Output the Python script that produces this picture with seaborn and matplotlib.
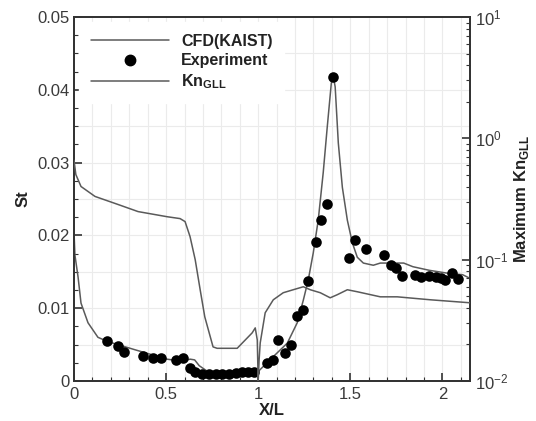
import matplotlib
matplotlib.use("Agg")
import matplotlib.pyplot as plt
import seaborn as sns
import pandas as pd
import numpy as np
from matplotlib.ticker import MultipleLocator, LogLocator, NullFormatter, FixedLocator
from matplotlib.lines import Line2D

# ---- data ----
cfd_x = [0, 0.005, 0.022, 0.038, 0.076, 0.13, 0.185, 0.33, 0.505, 0.59, 0.63, 0.655,
         0.68, 0.72, 0.76, 0.85, 0.95, 1.0, 1.08, 1.158, 1.212, 1.245, 1.272, 1.299,
         1.326, 1.353, 1.375, 1.397, 1.408, 1.418, 1.435, 1.457, 1.484, 1.511, 1.538,
         1.571, 1.625, 1.663, 1.72, 1.79, 1.84, 1.93, 2.03, 2.11, 2.15]
cfd_st = [0.0205, 0.0173, 0.0143, 0.0107, 0.0080, 0.0060, 0.0054, 0.0043, 0.0030, 0.0027,
          0.0030, 0.0029, 0.0021, 0.0014, 0.0011, 0.0010, 0.0011, 0.0013, 0.0033, 0.0052,
          0.0080, 0.0111, 0.0139, 0.0176, 0.0221, 0.0286, 0.0349, 0.0409, 0.0418, 0.0404,
          0.0327, 0.0266, 0.0221, 0.0190, 0.0170, 0.0162, 0.0159, 0.0162, 0.0162, 0.0162,
          0.0157, 0.0152, 0.0148, 0.0146, 0.0141]

exp_x = [0.177, 0.239, 0.269, 0.375, 0.427, 0.47, 0.554, 0.59, 0.63, 0.658, 0.696, 0.734,
         0.772, 0.804, 0.842, 0.88, 0.913, 0.946, 0.978, 1.047, 1.083, 1.11, 1.147, 1.178,
         1.209, 1.243, 1.273, 1.313, 1.342, 1.375, 1.406, 1.492, 1.524, 1.587, 1.685, 1.723,
         1.75, 1.781, 1.851, 1.886, 1.929, 1.967, 1.995, 2.016, 2.053, 2.083]
exp_st = [0.00543, 0.00481, 0.00405, 0.0035, 0.0031, 0.0031, 0.00295, 0.00316, 0.00179,
          0.00124, 0.00103, 0.0009, 0.00096, 0.00103, 0.00103, 0.0011, 0.0013, 0.0013,
          0.00124, 0.00243, 0.00288, 0.00559, 0.00385, 0.00488, 0.00893, 0.00979, 0.01374,
          0.01905, 0.02216, 0.02438, 0.0418, 0.01683, 0.01937, 0.01813, 0.01731, 0.01593,
          0.01548, 0.01442, 0.01456, 0.01422, 0.01449, 0.01435, 0.01415, 0.01387, 0.01484,
          0.01401]

kn_x = [0, 0.01, 0.038, 0.114, 0.239, 0.348, 0.505, 0.576, 0.603, 0.63, 0.658, 0.685,
        0.71, 0.74, 0.755, 0.777, 0.886, 0.93, 0.967, 0.984, 0.995, 1.0, 1.005, 1.011,
        1.038, 1.082, 1.136, 1.19, 1.245, 1.283, 1.337, 1.391, 1.429, 1.484, 1.538,
        1.663, 1.755, 1.935, 2.152]
kn_val = [0.66, 0.503, 0.401, 0.332, 0.285, 0.249, 0.226, 0.218, 0.206, 0.155, 0.100,
          0.0565, 0.0338, 0.0231, 0.0191, 0.0186, 0.0186, 0.0218, 0.0249, 0.0274, 0.0218,
          0.0100, 0.0149, 0.0206, 0.0365, 0.0467, 0.0534, 0.0565, 0.0598, 0.0565, 0.0534,
          0.0485, 0.0514, 0.0565, 0.0544, 0.0494, 0.0494, 0.0467, 0.0441]

x_ticks = [0, 0.5, 1, 1.5, 2]
x_tick_labels = ["0", "0.5", "1", "1.5", "2"]
st_ticks = [0, 0.01, 0.02, 0.03, 0.04, 0.05]
st_tick_labels = ["0", "0.01", "0.02", "0.03", "0.04", "0.05"]

sns.set_theme(style="white")
plt.rcParams['font.family'] = ['Liberation Sans', 'DejaVu Sans']
plt.rcParams['mathtext.fontset'] = 'custom'
plt.rcParams['mathtext.rm'] = 'Liberation Sans'
plt.rcParams['mathtext.bf'] = 'Liberation Sans:bold'

df_cfd = pd.DataFrame({"x": cfd_x, "St": cfd_st})
df_exp = pd.DataFrame({"x": exp_x, "St": exp_st})
df_kn = pd.DataFrame({"x": kn_x, "Kn": kn_val})

fig = plt.figure(figsize=(5.36, 4.21), dpi=100)
ax = fig.add_axes([74/536, 40/421, (470-74)/536, (381-17)/421])
line_col = "#5a5a5a"

sns.lineplot(data=df_cfd, x="x", y="St", ax=ax, color=line_col, lw=1.1,
             sort=False, estimator=None, zorder=3)
sns.scatterplot(data=df_exp, x="x", y="St", ax=ax, color="black", s=58,
                edgecolor="black", linewidth=0, zorder=4)

ax.set_xlim(0, 2.15)
ax.set_ylim(0, 0.05)
ax.xaxis.set_major_locator(FixedLocator(x_ticks))
ax.set_xticklabels(x_tick_labels)
ax.xaxis.set_minor_locator(MultipleLocator(0.1))
ax.yaxis.set_major_locator(FixedLocator(st_ticks))
ax.set_yticklabels(st_tick_labels)
ax.yaxis.set_minor_locator(MultipleLocator(0.0025))
ax.tick_params(axis="both", which="both", direction="in", labelsize=12,
               labelcolor="#3a3a3a", color="#333333", top=False, right=False,
               bottom=True, left=True)
ax.tick_params(which="major", length=6, width=1.2)
ax.tick_params(which="minor", length=3, width=0.8)
ax.tick_params(axis="x", pad=4)
ax.tick_params(axis="y", pad=3)

# grid
for gx in np.arange(0.1, 2.15, 0.1):
    ax.axvline(gx, color="#ebebeb", lw=0.8, zorder=0)
for gy in np.arange(0.005, 0.05, 0.005):
    ax.axhline(gy, color="#ebebeb", lw=0.8, zorder=0)

ax.set_xlabel("X/L", fontsize=12, fontweight="bold", labelpad=1, color="#222222")
ax.set_ylabel("St", fontsize=12, fontweight="bold", labelpad=5, color="#222222")

ax2 = ax.twinx()
sns.lineplot(data=df_kn, x="x", y="Kn", ax=ax2, color=line_col, lw=1.1,
             sort=False, estimator=None, zorder=3)
ax2.set_yscale("log")
ax2.set_ylim(1e-2, 1e1)
ax2.yaxis.set_major_locator(LogLocator(base=10, numticks=10))
ax2.yaxis.set_minor_locator(LogLocator(base=10, subs=np.arange(2, 10), numticks=20))
ax2.yaxis.set_minor_formatter(NullFormatter())
ax2.tick_params(axis="y", which="both", direction="in", labelsize=12,
                labelcolor="#3a3a3a", color="#333333")
ax2.tick_params(which="major", length=6, width=1.2)
ax2.tick_params(which="minor", length=3, width=0.8)
ax2.set_ylabel(r"Maximum Kn$_{\mathbf{GLL}}$", fontsize=12, fontweight="bold",
               labelpad=3, color="#222222")
ax2.set_xlabel("")

for a in (ax, ax2):
    for s in a.spines.values():
        s.set_color("#333333")
        s.set_linewidth(1.3)

handles = [Line2D([], [], color=line_col, lw=1.1),
           Line2D([], [], color="black", marker="o", ls="none", markersize=7.5),
           Line2D([], [], color=line_col, lw=1.1)]
labels = ["CFD(KAIST)", "Experiment", r"Kn$_{\mathbf{GLL}}$"]
leg = ax2.legend(handles, labels, loc="upper left", frameon=True, fancybox=False,
                 facecolor="white", edgecolor="white", framealpha=1,
                 prop={"weight": "bold", "size": 11.5}, handlelength=4.9,
                 handletextpad=0.75, labelspacing=0.28, borderaxespad=0.3,
                 borderpad=0.75)
for t in leg.get_texts():
    t.set_color("#222222")

fig.savefig("out.png", dpi=100)
